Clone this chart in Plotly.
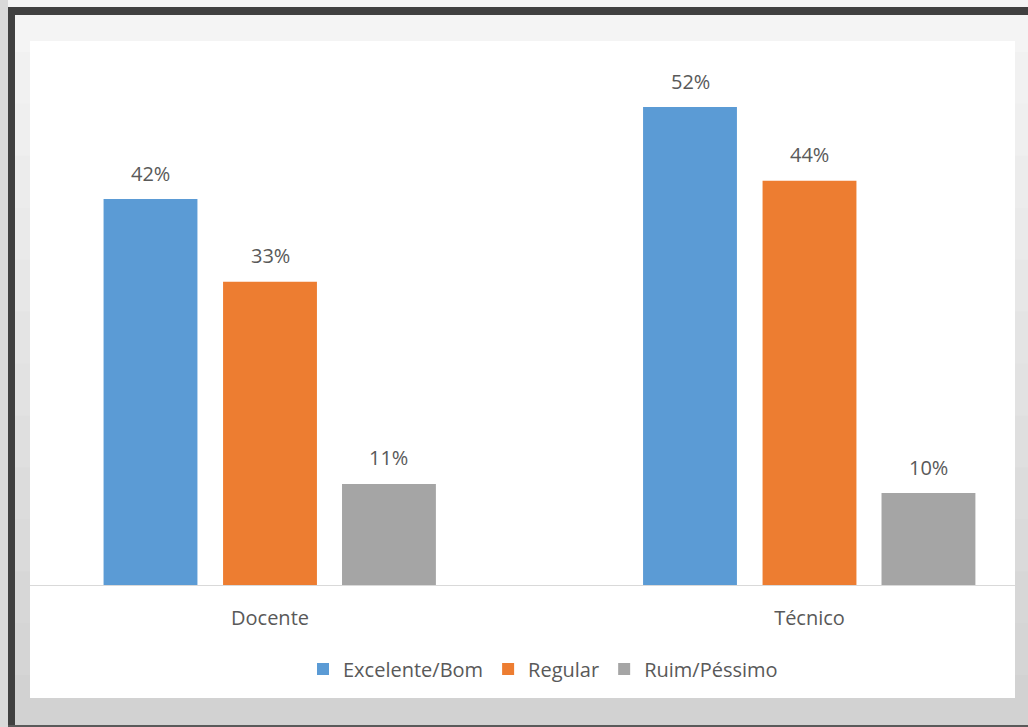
import plotly.graph_objects as go

categories = ["Docente", "Técnico"]
series_names = ["Excelente/Bom", "Regular", "Ruim/Péssimo"]
excelente = [0.42, 0.52]
regular = [0.33, 0.44]
ruim = [0.11, 0.10]
series_values = [excelente, regular, ruim]
colors = ["#5B9BD5", "#ED7D31", "#A5A5A5"]

W, H = 1028, 727
L, R, T, B = 30, 13, 40, 142
pw, ph = W - L - R, H - T - B

def px_x(x):  # pixel -> paper x
    return (x - L) / pw

def px_y(y):  # pixel -> paper y
    return (H - B - y) / ph

FONT = "Open Sans"
FS = 20

bar_w = 0.174
centers = [-0.2215, 0.0, 0.2205]
xpos = list(range(len(categories)))

fig = go.Figure()
annotations = []
for name, vals, col, c in zip(series_names, series_values, colors, centers):
    fig.add_trace(go.Bar(
        x=xpos, y=vals, name=name, marker=dict(color=col, line=dict(width=0)),
        width=bar_w, offset=c - bar_w / 2,
    ))
    for xi, v in zip(xpos, vals):
        annotations.append(dict(
            x=xi + c, y=v, xref="x", yref="y", text=f"{round(v*100)}%",
            showarrow=False, yshift=26, yanchor="middle",
            font=dict(family=FONT, size=FS, color="#595959"),
        ))

shapes = []
# background gradient bands
n = 14
top_c, bot_c = (0xF4, 0xF4, 0xF4), (0xD2, 0xD2, 0xD2)
for i in range(n):
    t = i / (n - 1)
    c = tuple(int(round(a + (b - a) * t)) for a, b in zip(top_c, bot_c))
    y0 = i * H / n
    y1 = (i + 1) * H / n + 1
    shapes.append(dict(type="rect", xref="paper", yref="paper",
                       x0=px_x(0), x1=px_x(W), y0=px_y(y1), y1=px_y(y0),
                       fillcolor="rgb(%d,%d,%d)" % c, line=dict(width=0), layer="below"))
# left outer strip
shapes.append(dict(type="rect", xref="paper", yref="paper",
                   x0=px_x(0), x1=px_x(8), y0=px_y(H), y1=px_y(0),
                   fillcolor="#D9D9D9", line=dict(width=0), layer="below"))
# white chart box
shapes.append(dict(type="rect", xref="paper", yref="paper",
                   x0=px_x(30), x1=px_x(1015), y0=px_y(698), y1=px_y(41),
                   fillcolor="#FFFFFF", line=dict(width=0), layer="below"))
# dark frame
shapes.append(dict(type="rect", xref="paper", yref="paper",
                   x0=px_x(8), x1=px_x(W), y0=px_y(15), y1=px_y(7),
                   fillcolor="#404040", line=dict(width=0), layer="above"))
shapes.append(dict(type="rect", xref="paper", yref="paper",
                   x0=px_x(8), x1=px_x(15), y0=px_y(H), y1=px_y(7),
                   fillcolor="#404040", line=dict(width=0), layer="above"))
shapes.append(dict(type="rect", xref="paper", yref="paper",
                   x0=px_x(8), x1=px_x(W), y0=px_y(H), y1=px_y(725),
                   fillcolor="#5A5A5A", line=dict(width=0), layer="above"))

x_px_per_unit = 539.5
x0 = -(270 - L) / x_px_per_unit
x1 = x0 + pw / x_px_per_unit
y_top = ph / 9.19 / 100

fig.update_layout(
    width=W, height=H,
    margin=dict(l=L, r=R, t=T, b=B, pad=0),
    paper_bgcolor="#EFEFEF", plot_bgcolor="#FFFFFF",
    barmode="overlay",
    showlegend=True,
    legend=dict(orientation="h", x=px_x(543), xanchor="center", y=px_y(669), yanchor="middle",
                font=dict(family=FONT, size=FS, color="#595959"),
                bgcolor="rgba(0,0,0,0)", traceorder="normal", itemwidth=30),
    xaxis=dict(range=[x0, x1], tickvals=xpos, ticktext=categories, showgrid=False,
               zeroline=False, showline=True, linecolor="#D9D9D9", linewidth=1,
               ticks="", ticklabelstandoff=15,
               tickfont=dict(family=FONT, size=FS, color="#595959")),
    yaxis=dict(range=[0, y_top], visible=False, showgrid=False, zeroline=False),
    shapes=shapes,
    annotations=annotations,
)

fig.write_html("out.html", config={"displayModeBar": False},
               post_script="document.body.style.margin='0';document.body.style.overflow='hidden';")
